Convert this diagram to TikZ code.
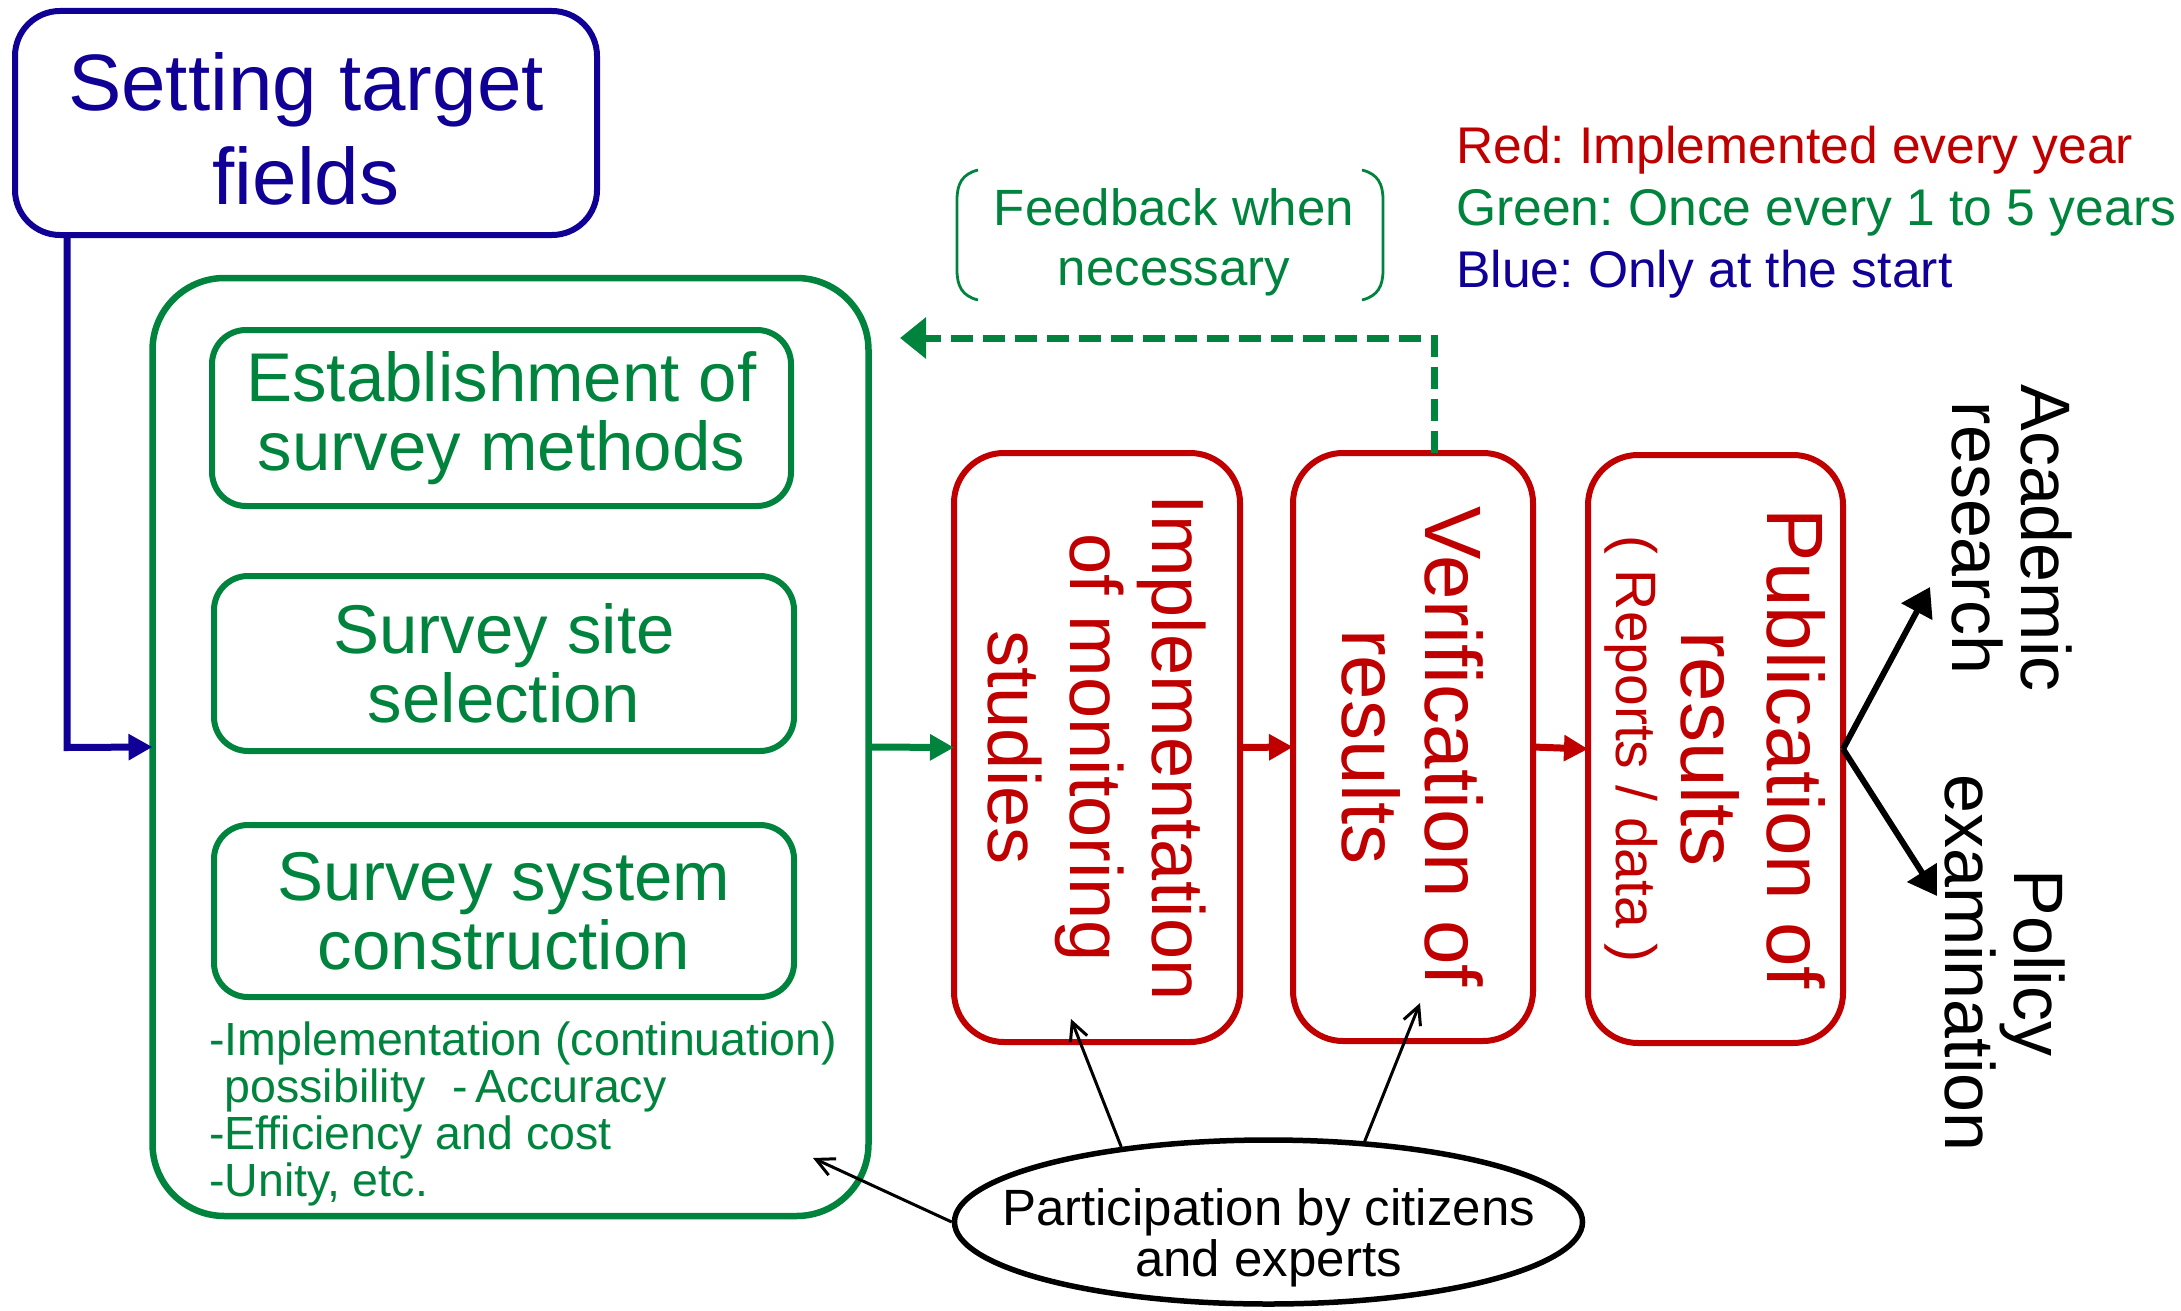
\documentclass[tikz,border=0pt]{standalone}
\usepackage{fontspec}
\setmainfont{Liberation Sans}
\usetikzlibrary{arrows.meta,shapes.geometric}
\definecolor{cblue}{RGB}{16,0,150}
\definecolor{cgreen}{RGB}{0,132,61}
\definecolor{cred}{RGB}{192,0,0}
\newcommand{\fsz}[2]{\fontsize{#1}{#2}\selectfont}
\frenchspacing
\tikzset{
  roundbox/.style={draw, rounded corners=#1, inner sep=0pt, outer sep=0pt, align=center},
  greenbox/.style={roundbox=34pt, draw=cgreen, text=cgreen, line width=6pt, font=\fsz{69}{69}},
  redbox/.style={roundbox=50pt, draw=cred, text=cred, line width=6pt, rotate=-90},
  thickarrow/.style={line width=7pt, -{Triangle[length=24pt,width=25pt]}},
  thinarrow/.style={line width=3pt, black, -{Straight Barb[length=18pt,width=18pt]}},
  outarrow/.style={line width=6pt, black, -{Triangle[length=28pt,width=34pt]}},
  sidetext/.style={rotate=-90, align=center, font=\fsz{70}{69}},
  legend/.style={anchor=base west, font=\fsz{51.6}{60}, inner sep=0pt}
}
\begin{document}
\begin{tikzpicture}[x=1pt,y=-1pt]
\useasboundingbox (0,0) rectangle (2181,1311);

% Setting target fields
\node[roundbox=45pt, draw=cblue, line width=6pt, minimum width=582pt, minimum height=224pt] (setting) at (306,123) {};
\node[text=cblue, align=center, font=\fsz{80}{94}, inner sep=0pt] (settingtext) at (306,129) {Setting target\\fields};

% outer green box
\node[roundbox=72pt, draw=cgreen, line width=6.5pt, minimum width=716pt, minimum height=938pt] (outer) at (510.5,747) {};

% inner green boxes
\node[greenbox, minimum width=579pt, minimum height=176pt] (estab) at (501.5,418) {Establishment of\\survey methods};
\node[greenbox, minimum width=580pt, minimum height=175pt] (site) at (504,663.5) {Survey site\\selection};
\node[greenbox, minimum width=580pt, minimum height=172pt] (system) at (504,911) {Survey system\\construction};

% bullet text
\node[anchor=west, align=left, text=cgreen, font=\fsz{46.5}{46.7}, inner sep=0pt] (bullets) at (209,1114)
  {-Implementation (continuation)\\\hphantom{-}possibility\ \ -\,Accuracy\\-Efficiency and cost\\-Unity, etc.};

% red boxes
\node[redbox, minimum width=589pt, minimum height=286pt, font=\fsz{74}{82}] (impl) at (1097,747.5) {Implementation\\of monitoring\\studies};
\node[redbox, minimum width=588pt, minimum height=240pt, font=\fsz{80}{83}] (verif) at (1413,747) {Verification of\\results};
\node[redbox, minimum width=588pt, minimum height=255pt, font=\fsz{80}{86}] (pub) at (1715.5,749) {Publication of\\results\\[-21pt]{\fsz{57}{65}( Reports / data )}};

% side texts
\node[sidetext] (acad) at (2012,538) {Academic\\research};
\node[sidetext] (policy) at (2005,963) {Policy\\examination};

% legend
\node[legend, text=cred] (lred) at (1456,163) {Red: Implemented every year};
\node[legend, text=cgreen] (lgreen) at (1456,225) {Green: Once every 1 to 5 years};
\node[legend, text=cblue] (lblue) at (1456,287) {Blue: Only at the start};

% feedback note
\node[align=center, text=cgreen, font=\fsz{51}{60}, inner sep=0pt] (fbtext) at (1174,242) {Feedback when\\necessary};
\draw[cgreen, line width=2.8pt] (978,170) .. controls (962,174) and (957,184) .. (957,200) -- (957,270) .. controls (957,286) and (962,296) .. (978,300);
\draw[cgreen, line width=2.8pt] (1362,170) .. controls (1378,174) and (1383,184) .. (1383,200) -- (1383,270) .. controls (1383,286) and (1378,296) .. (1362,300);

% participation ellipse
\node[ellipse, draw, line width=5.5pt, minimum width=628pt, minimum height=164pt, inner sep=0pt] (part) at (1268.5,1222) {};
\node[align=center, font=\fsz{51}{51}, inner sep=0pt] (parttext) at (1268.5,1238) {Participation by citizens\\and experts};

% coordinates
\coordinate (bluecorner) at (67,747.5);
\coordinate (fbturn) at (1434,338);
\coordinate (fbtip) at (900,338);
\coordinate (acadtip) at (1930,587);
\coordinate (poltip) at (1937,896);
\coordinate (tipimpl) at (1071,1019);
\coordinate (tipverif) at (1420,1003);
\coordinate (tipouter) at (813,1158);

% connectors
\draw[thickarrow, cblue] (bluecorner |- setting.south) -- (bluecorner) -- (outer.west);
\draw[thickarrow, cgreen] (outer.east) -- (impl.south);
\draw[thickarrow, cred] (impl.north) -- (verif.south);
\draw[thickarrow, cred] (verif.north) -- (pub.south);
\draw[cgreen, line width=7pt, dash pattern=on 22pt off 10pt, -{Triangle[length=26pt,width=40pt]}] (fbturn |- verif.west) -- (fbturn) -- (fbtip);
\draw[outarrow] (pub.north) -- (acadtip);
\draw[outarrow] (pub.north) -- (poltip);
\draw[thinarrow] (part.153) -- (tipimpl);
\draw[thinarrow] (part.40) -- (tipverif);
\draw[thinarrow] (part.west) -- (tipouter);
\end{tikzpicture}
\end{document}
